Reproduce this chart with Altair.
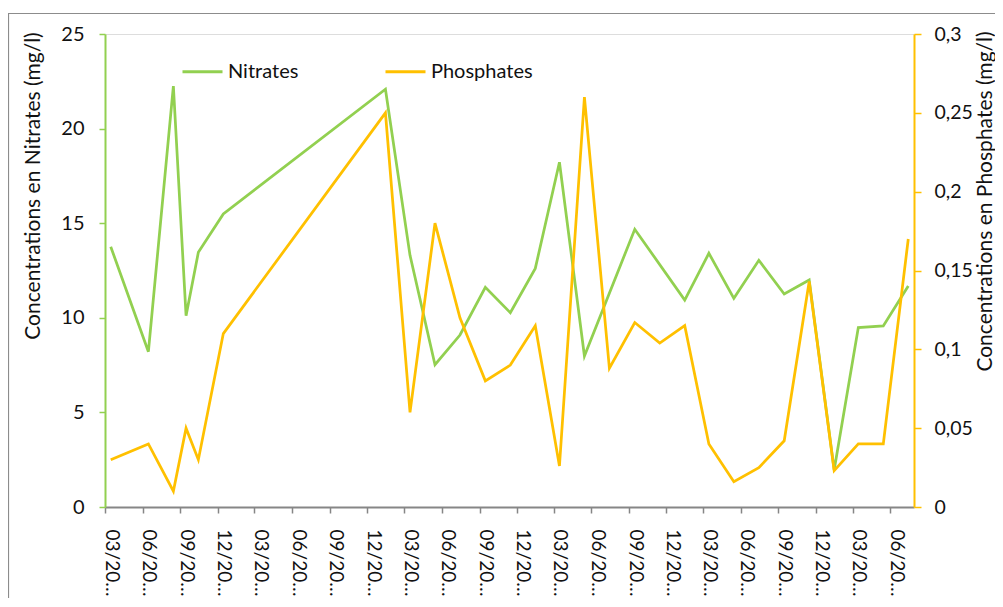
import altair as alt
import pandas as pd

# ---- data ----
phos_dates = ["2010/03/15", "2010/06/15", "2010/08/15", "2010/09/15", "2010/10/15", "2010/12/15",
              "2012/01/15", "2012/03/15", "2012/05/15", "2012/07/15", "2012/09/15", "2012/11/15",
              "2013/01/15", "2013/03/15", "2013/05/15", "2013/07/15", "2013/09/15", "2013/11/15",
              "2014/01/15", "2014/03/15", "2014/05/15", "2014/07/15", "2014/09/15", "2014/11/15",
              "2015/01/15", "2015/03/15", "2015/05/15", "2015/07/15"]
phos_values = [0.03, 0.04, 0.01, 0.05, 0.03, 0.11,
               0.25, 0.06, 0.18, 0.12, 0.08, 0.09,
               0.115, 0.026, 0.26, 0.088, 0.117, 0.104,
               0.115, 0.04, 0.016, 0.025, 0.042, 0.143,
               0.023, 0.04, 0.04, 0.17]

nitr_dates = ["2010/03/15", "2010/06/15", "2010/08/15", "2010/09/15", "2010/10/15", "2010/12/15",
              "2012/01/15", "2012/03/15", "2012/05/15", "2012/07/15", "2012/09/15", "2012/11/15",
              "2013/01/15", "2013/03/15", "2013/05/15", "2013/09/15",
              "2014/01/15", "2014/03/15", "2014/05/15", "2014/07/15", "2014/09/15", "2014/11/15",
              "2015/01/15", "2015/03/15", "2015/05/15", "2015/07/15"]
nitr_values = [13.76, 8.21, 22.25, 10.11, 13.46, 15.49,
               22.08, 13.3, 7.52, 9.09, 11.61, 10.27,
               12.61, 18.22, 7.98, 14.68,
               10.94, 13.41, 11.03, 13.04, 11.26, 12.0,
               1.96, 9.48, 9.57, 11.68]

series_names = ["Nitrates", "Phosphates"]
series_colors = ["#92D050", "#FFC000"]

# quarterly tick dates (months 3, 6, 9, 12)
tick_years = [2010] * 4 + [2011] * 4 + [2012] * 4 + [2013] * 4 + [2014] * 4 + [2015] * 2
tick_months = [3, 6, 9, 12] * 5 + [3, 6]

left_ticks = [0, 5, 10, 15, 20, 25]
right_ticks = [0, 0.05, 0.1, 0.15, 0.2, 0.25, 0.3]

FONT = "Lato"
FS = 20
TFS = 21
TXT = "#111111"

nitr_df = pd.DataFrame({"date": nitr_dates, "value": nitr_values, "serie": "Nitrates"})
phos_df = pd.DataFrame({"date": phos_dates, "value": phos_values, "serie": "Phosphates"})

tick_values = [alt.DateTime(year=y, month=m, date=1) for y, m in zip(tick_years, tick_months)]

x_enc = alt.X(
    "date:T",
    scale=alt.Scale(domain=[alt.DateTime(year=2010, month=3, date=1),
                            alt.DateTime(year=2015, month=7, date=29)]),
    axis=alt.Axis(
        values=tick_values,
        labelExpr="timeFormat(datum.value, '%m') + '/20…'",
        labelAngle=90, labelAlign="left", labelBaseline="alphabetic",
        labelFont=FONT, labelFontSize=19, labelColor=TXT, labelPadding=16,
        labelOverlap=False, labelFlush=False,
        domainColor="#868686", domainWidth=2, tickColor="#868686", tickWidth=1.5, tickSize=6,
        grid=False, title=None,
    ),
)

color_enc = alt.Color(
    "serie:N",
    scale=alt.Scale(domain=series_names, range=series_colors),
    legend=alt.Legend(
        orient="none", legendX=76, legendY=16, direction="horizontal", title=None,
        symbolType="stroke", symbolSize=1600, symbolStrokeWidth=3,
        labelFont=FONT, labelFontSize=FS, labelColor=TXT, labelOffset=4,
        columnPadding=80,
    ),
)

nitr = alt.Chart(nitr_df).mark_line(strokeWidth=2.75).encode(
    x=x_enc,
    y=alt.Y(
        "value:Q",
        scale=alt.Scale(domain=[0, 25], nice=False),
        axis=alt.Axis(
            orient="left", values=left_ticks, title="Concentrations en Nitrates  (mg/l)",
            labelFont=FONT, labelFontSize=FS, labelColor=TXT, labelPadding=15,
            titleFont=FONT, titleFontSize=TFS, titleFontWeight="normal", titleColor=TXT,
            titleAngle=270, titleX=-71.5, titleY=151.5, titleAlign="center", titleBaseline="middle",
            domainColor="#92D050", domainWidth=2, tickColor="#92D050", tickWidth=1.5, tickSize=6,
            grid=False,
        ),
    ),
    color=color_enc,
)

phos = alt.Chart(phos_df).mark_line(strokeWidth=2.75).encode(
    x=x_enc,
    y=alt.Y(
        "value:Q",
        scale=alt.Scale(domain=[0, 0.3], nice=False),
        axis=alt.Axis(
            orient="right", values=right_ticks,
            labelExpr="replace(format(datum.value, '.2~f'), '.', ',')",
            title="Concentrations en Phosphates (mg/l)",
            labelFont=FONT, labelFontSize=19.5, labelColor=TXT, labelPadding=13,
            titleFont=FONT, titleFontSize=TFS, titleFontWeight="normal", titleColor=TXT,
            titleAngle=270, titleX=71, titleY=167, titleAlign="center", titleBaseline="middle",
            domainColor="#FFC000", domainWidth=2, tickColor="#FFC000", tickWidth=1.5, tickSize=7,
            grid=False,
        ),
    ),
    color=color_enc,
)

# outer chart-area frame (decoration)
frame = alt.Chart(pd.DataFrame({"k": [0]})).mark_rect(
    fillOpacity=0, stroke="#8C8C8C", strokeWidth=1.2, clip=False
).encode(
    x=alt.value(-96.5), x2=alt.value(1400), y=alt.value(-20.5), y2=alt.value(900)
)

chart = alt.layer(frame, nitr, phos).resolve_scale(y="independent").properties(
    width=809, height=473,
    padding={"left": 97, "top": 26, "right": 81, "bottom": 91},
    autosize=alt.AutoSizeParams(type="none"),
).configure_view(stroke=None).configure(background="white")

chart.save("out.html", embed_options={"renderer": "svg", "actions": False})
